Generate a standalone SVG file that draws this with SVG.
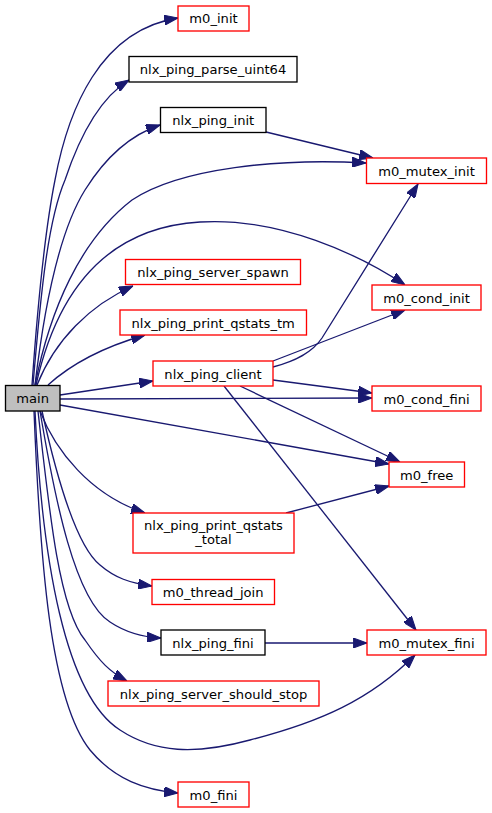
<svg xmlns="http://www.w3.org/2000/svg" width="492" height="813" viewBox="0 0 492 813">
<style>
.n rect{fill:#ffffff;stroke-width:1.33}
.r rect{stroke:#ff0000}
.b rect{stroke:#000000}
.n text{font-family:"DejaVu Sans",sans-serif;font-size:13.1px;fill:#000000;text-anchor:middle}
.e path{fill:none;stroke:#191970;stroke-width:1.33;marker-end:url(#ah)}
</style>
<defs>
<marker id="ah" markerUnits="userSpaceOnUse" markerWidth="14" markerHeight="10" viewBox="0 0 13 9.4" refX="13" refY="4.7" orient="auto">
<path d="M0,0 L13,4.7 L0,9.4 Z" fill="#191970" stroke="#191970" stroke-width="1"/>
</marker>
</defs>
<rect width="492" height="813" fill="#ffffff"/>
<g id="edges" class="e">
<path d="M32,385 C38,300 45,230 55,180 C68,110 100,30 178,18"/>
<path d="M33,385 C41,290 48,220 65,180 C80,135 100,98 129,80"/>
<path d="M35,385 C45,300 60,230 85,190 C105,158 130,135 160,125"/>
<path d="M35,385 C50,310 80,240 132,200 C180,168 280,158 366,163"/>
<path d="M36,385 C55,300 100,228 200,222 C280,217 360,255 405,285"/>
<path d="M37,385 C55,340 90,305 133,286"/>
<path d="M48,385 C70,365 100,348 145,335"/>
<path d="M60,395 L153,381"/>
<path d="M60,399 L372,398"/>
<path d="M60,405 L389,464"/>
<path d="M40,411 C55,450 90,495 145,513"/>
<path d="M42,411 C55,470 75,545 100,565 C115,578 130,583 152,586"/>
<path d="M40,411 C55,500 75,600 110,622 C125,632 140,637 161,638"/>
<path d="M38,411 C50,520 60,610 85,640 C100,662 110,672 127,681"/>
<path d="M35,411 C42,560 65,695 120,730 C155,753 195,755 250,740 C320,722 370,700 415,655"/>
<path d="M34,411 C40,560 50,700 90,750 C115,780 145,790 178,793"/>
<path d="M266,132 L373,158"/>
<path d="M273,367 C295,361 312,353 322,338 L418,184"/>
<path d="M273,361 L405,310"/>
<path d="M273,380 L372,393"/>
<path d="M240,386 L400,462"/>
<path d="M224,386 L416,630"/>
<path d="M286,513 L389,486"/>
<path d="M265,643 L367,643"/>
</g>
<g id="main" class="n b"><rect x="5.5" y="385.5" width="54.5" height="25.5" style="fill:#bfbfbf"/><text x="32.7" y="403">main</text></g>
<g id="m0_init" class="n r"><rect x="178" y="6" width="71" height="25"/><text x="213.5" y="23">m0_init</text></g>
<g id="nlx_ping_parse_uint64" class="n b"><rect x="129" y="56.5" width="168" height="25.5"/><text x="213" y="74">nlx_ping_parse_uint64</text></g>
<g id="nlx_ping_init" class="n b"><rect x="160.5" y="107.5" width="105.5" height="25"/><text x="213.2" y="125">nlx_ping_init</text></g>
<g id="m0_mutex_init" class="n r"><rect x="366.5" y="158" width="120" height="25.5"/><text x="426.5" y="175.5">m0_mutex_init</text></g>
<g id="nlx_ping_server_spawn" class="n r"><rect x="125.5" y="259.5" width="175" height="25"/><text x="213" y="277">nlx_ping_server_spawn</text></g>
<g id="nlx_ping_print_qstats_tm" class="n r"><rect x="120" y="310" width="186.5" height="25"/><text x="213.2" y="327.5">nlx_ping_print_qstats_tm</text></g>
<g id="nlx_ping_client" class="n r"><rect x="153" y="361" width="120" height="25"/><text x="213" y="378.5">nlx_ping_client</text></g>
<g id="m0_cond_init" class="n r"><rect x="372" y="285" width="109" height="25"/><text x="426.5" y="302.5">m0_cond_init</text></g>
<g id="m0_cond_fini" class="n r"><rect x="372" y="386" width="109" height="25"/><text x="426.5" y="403.5">m0_cond_fini</text></g>
<g id="m0_free" class="n r"><rect x="389" y="462" width="75.5" height="25"/><text x="426.7" y="479.5">m0_free</text></g>
<g id="nlx_ping_print_qstats_total" class="n r"><rect x="133" y="513" width="161" height="40"/><text x="213.5" y="530">nlx_ping_print_qstats</text><text x="213.5" y="544">_total</text></g>
<g id="m0_thread_join" class="n r"><rect x="152" y="579.5" width="122.5" height="25"/><text x="213.2" y="597">m0_thread_join</text></g>
<g id="nlx_ping_fini" class="n b"><rect x="161" y="630" width="104" height="25"/><text x="213" y="647.5">nlx_ping_fini</text></g>
<g id="m0_mutex_fini" class="n r"><rect x="367" y="630" width="119" height="25"/><text x="426.5" y="647.5">m0_mutex_fini</text></g>
<g id="nlx_ping_server_should_stop" class="n r"><rect x="108" y="681" width="211" height="25"/><text x="213.5" y="698.5">nlx_ping_server_should_stop</text></g>
<g id="m0_fini" class="n r"><rect x="178" y="782" width="71" height="25"/><text x="213.5" y="799.5">m0_fini</text></g>
</svg>
